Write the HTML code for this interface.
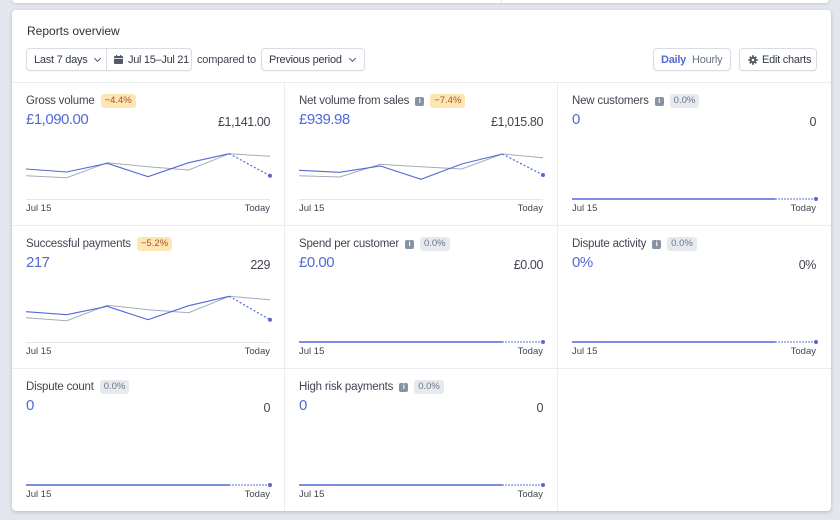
<!DOCTYPE html>
<html><head><meta charset="utf-8">
<style>
*{margin:0;padding:0;box-sizing:border-box}
html,body{width:840px;height:520px;overflow:hidden;background:#e3e6ed;font-family:"Liberation Sans",Arial,sans-serif;color:#414552}
.topcard{position:absolute;left:12px;top:-10px;width:817px;height:13px;background:#fff;border-radius:0 0 4px 4px;box-shadow:0 1px 3px rgba(60,66,87,.15)}
.topcard:after{content:"";position:absolute;left:489px;top:0;width:1px;height:13px;background:#e3e6ea}
.card{position:absolute;left:12px;top:10px;width:819px;height:501px;background:#fff;border-radius:4px;box-shadow:0 1px 3px rgba(60,66,87,.18),0 2px 5px rgba(60,66,87,.08)}
.t{position:absolute;white-space:nowrap}
.title{left:27px;top:25px;font-size:12px;line-height:12px;color:#30313d}
.box{position:absolute;top:48px;height:23px;border:1px solid #d8dde3;border-radius:4px;background:#fff;box-shadow:0 1px 1px rgba(0,0,0,.04);font-size:11px;letter-spacing:-0.25px;color:#353a44;display:flex;align-items:center;white-space:nowrap;overflow:hidden}
.chev{display:inline-block;width:5px;height:5px;border-right:1.2px solid #545969;border-bottom:1.2px solid #545969;transform:rotate(45deg);margin-top:-3px}
.lab{position:absolute;font-size:11.5px;line-height:12px;color:#414552;white-space:nowrap;letter-spacing:-0.2px;display:flex;align-items:center}
.badge{display:inline-block;height:14px;line-height:14px;font-size:9.5px;padding:0 4px;border-radius:3px;margin-left:6px;letter-spacing:0}
.bo{background:#fbe6b4;color:#b0521e}
.bg{background:#e6e9ee;color:#6c7688}
.info{display:inline-block;width:9px;height:9px;border-radius:2px;background:#8792a2;color:#fff;font-size:7px;line-height:9px;text-align:center;font-weight:bold;margin-left:6px}
.val{position:absolute;font-size:15px;line-height:15px;color:#5469d4;letter-spacing:-0.5px;white-space:nowrap}
.rv{position:absolute;font-size:12.5px;line-height:12px;color:#414552;letter-spacing:-0.4px;white-space:nowrap;text-align:right}
.ax{position:absolute;font-size:9.5px;line-height:10px;color:#414552;white-space:nowrap}
</style></head><body>
<div class="topcard"></div>
<div class="card"></div>
<div class="t title">Reports overview</div>

<div class="box" style="left:26px;width:166px;">
  <span style="padding-left:7px;width:79px;display:flex;align-items:center;gap:7px">Last 7 days <span class="chev"></span></span>
  <span style="width:1px;height:21px;background:#d8dde3"></span>
  <span style="padding-left:7px;display:flex;align-items:center;gap:5px;letter-spacing:-0.3px"><svg width="9" height="9" viewBox="0 0 9 9"><rect x="0" y="1" width="9" height="8" rx="1" fill="#545969"/><rect x="2" y="0" width="1.2" height="2" fill="#545969"/><rect x="6" y="0" width="1.2" height="2" fill="#545969"/><rect x="0" y="3" width="9" height="0.8" fill="#fff"/></svg>Jul 15–Jul 21</span>
</div>
<div class="t" style="left:197px;top:54px;font-size:11px;letter-spacing:-0.2px;line-height:12px;color:#414552">compared to</div>
<div class="box" style="left:261px;width:104px;padding-left:7px;gap:8px">Previous period <span class="chev"></span></div>

<div class="box" style="left:653px;width:78px;padding-left:7px;gap:6px"><b style="color:#5469d4;font-weight:bold">Daily</b><span style="color:#687385">Hourly</span></div>
<div class="box" style="left:739px;width:78px;padding-left:8px;gap:4px"><svg width="10" height="10" viewBox="0 0 10 10"><circle cx="5" cy="5" r="3.2" fill="#545969"/><g stroke="#545969" stroke-width="1.8"><line x1="5" y1="0.3" x2="5" y2="9.7"/><line x1="0.3" y1="5" x2="9.7" y2="5"/><line x1="1.7" y1="1.7" x2="8.3" y2="8.3"/><line x1="8.3" y1="1.7" x2="1.7" y2="8.3"/></g><circle cx="5" cy="5" r="1.3" fill="#fff"/></svg>Edit charts</div>

<svg style="position:absolute;left:0;top:0" width="840" height="520">
  <g stroke="#ebeef1" stroke-width="1">
    <line x1="12" y1="82.5" x2="831" y2="82.5"/>
    <line x1="12" y1="225.5" x2="831" y2="225.5"/>
    <line x1="12" y1="368.5" x2="831" y2="368.5"/>
    <line x1="284.5" y1="83" x2="284.5" y2="511"/>
    <line x1="557.5" y1="83" x2="557.5" y2="511"/>
  </g>
  <g transform="translate(26,83)">
    <line x1="0" y1="116.5" x2="244" y2="116.5" stroke="#e3e7ec"/>
    <polyline fill="none" stroke="#a3acb9" stroke-width="1" points="0,92.7 40.7,94.7 81.3,79.7 122,83.7 162.7,87 203.3,70.7 244,73.3"/>
    <polyline fill="none" stroke="#5469d4" stroke-width="1.1" points="0,86 40.7,89 81.3,80.3 122,93.7 162.7,79.7 203.3,70.7"/>
    <line x1="203.3" y1="70.7" x2="244" y2="92.7" stroke="#5469d4" stroke-width="1.2" stroke-dasharray="2,2"/>
    <circle cx="244" cy="92.7" r="2" fill="#5469d4"/>
  </g>
  <g transform="translate(299,83)">
    <line x1="0" y1="116.5" x2="244" y2="116.5" stroke="#e3e7ec"/>
    <polyline fill="none" stroke="#a3acb9" stroke-width="1" points="0,92.7 40.7,94 81.3,81.3 122,83.7 162.7,86 203.3,71 244,74.7"/>
    <polyline fill="none" stroke="#5469d4" stroke-width="1.1" points="0,87.3 40.7,89.3 81.3,83 122,96.3 162.7,81 203.3,71"/>
    <line x1="203.3" y1="71" x2="244" y2="92" stroke="#5469d4" stroke-width="1.2" stroke-dasharray="2,2"/>
    <circle cx="244" cy="92" r="2" fill="#5469d4"/>
  </g>
  <g transform="translate(26,226)">
    <line x1="0" y1="116.5" x2="244" y2="116.5" stroke="#e3e7ec"/>
    <polyline fill="none" stroke="#a3acb9" stroke-width="1" points="0,91.7 40.7,94.7 81.3,79.3 122,83.7 162.7,86.7 203.3,70.3 244,73.7"/>
    <polyline fill="none" stroke="#5469d4" stroke-width="1.1" points="0,85.7 40.7,88.7 81.3,80.3 122,93.7 162.7,79.7 203.3,70.3"/>
    <line x1="203.3" y1="70.3" x2="244" y2="93.7" stroke="#5469d4" stroke-width="1.2" stroke-dasharray="2,2"/>
    <circle cx="244" cy="93.7" r="2" fill="#5469d4"/>
  </g>
  <g transform="translate(572,83)"><line x1="0" y1="116" x2="203.3" y2="116" stroke="#5469d4" stroke-width="1.5"/><line x1="203.3" y1="116" x2="244" y2="116" stroke="#5469d4" stroke-width="1.2" stroke-dasharray="1.5,1.5"/><circle cx="244" cy="116" r="2" fill="#5469d4"/></g>
  <g transform="translate(299,226)"><line x1="0" y1="116" x2="203.3" y2="116" stroke="#5469d4" stroke-width="1.5"/><line x1="203.3" y1="116" x2="244" y2="116" stroke="#5469d4" stroke-width="1.2" stroke-dasharray="1.5,1.5"/><circle cx="244" cy="116" r="2" fill="#5469d4"/></g>
  <g transform="translate(572,226)"><line x1="0" y1="116" x2="203.3" y2="116" stroke="#5469d4" stroke-width="1.5"/><line x1="203.3" y1="116" x2="244" y2="116" stroke="#5469d4" stroke-width="1.2" stroke-dasharray="1.5,1.5"/><circle cx="244" cy="116" r="2" fill="#5469d4"/></g>
  <g transform="translate(26,369)"><line x1="0" y1="116" x2="203.3" y2="116" stroke="#5469d4" stroke-width="1.5"/><line x1="203.3" y1="116" x2="244" y2="116" stroke="#5469d4" stroke-width="1.2" stroke-dasharray="1.5,1.5"/><circle cx="244" cy="116" r="2" fill="#5469d4"/></g>
  <g transform="translate(299,369)"><line x1="0" y1="116" x2="203.3" y2="116" stroke="#5469d4" stroke-width="1.5"/><line x1="203.3" y1="116" x2="244" y2="116" stroke="#5469d4" stroke-width="1.2" stroke-dasharray="1.5,1.5"/><circle cx="244" cy="116" r="2" fill="#5469d4"/></g>
</svg>

<div class="lab" style="left:26px;top:94px">Gross volume<span class="badge bo">−4.4%</span></div>
<div class="val" style="left:26px;top:112px">£1,090.00</div>
<div class="rv" style="right:570px;top:116px">£1,141.00</div>
<div class="ax" style="left:26px;top:204px">Jul 15</div>
<div class="ax" style="right:570px;top:204px">Today</div>

<div class="lab" style="left:299px;top:94px">Net volume from sales<span class="info">i</span><span class="badge bo">−7.4%</span></div>
<div class="val" style="left:299px;top:112px">£939.98</div>
<div class="rv" style="right:297px;top:116px">£1,015.80</div>
<div class="ax" style="left:299px;top:204px">Jul 15</div>
<div class="ax" style="right:297px;top:204px">Today</div>

<div class="lab" style="left:572px;top:94px">New customers<span class="info">i</span><span class="badge bg">0.0%</span></div>
<div class="val" style="left:572px;top:112px">0</div>
<div class="rv" style="right:24px;top:116px">0</div>
<div class="ax" style="left:572px;top:204px">Jul 15</div>
<div class="ax" style="right:24px;top:204px">Today</div>

<div class="lab" style="left:26px;top:237px">Successful payments<span class="badge bo">−5.2%</span></div>
<div class="val" style="left:26px;top:255px">217</div>
<div class="rv" style="right:570px;top:259px">229</div>
<div class="ax" style="left:26px;top:347px">Jul 15</div>
<div class="ax" style="right:570px;top:347px">Today</div>

<div class="lab" style="left:299px;top:237px">Spend per customer<span class="info">i</span><span class="badge bg">0.0%</span></div>
<div class="val" style="left:299px;top:255px">£0.00</div>
<div class="rv" style="right:297px;top:259px">£0.00</div>
<div class="ax" style="left:299px;top:347px">Jul 15</div>
<div class="ax" style="right:297px;top:347px">Today</div>

<div class="lab" style="left:572px;top:237px">Dispute activity<span class="info">i</span><span class="badge bg">0.0%</span></div>
<div class="val" style="left:572px;top:255px">0%</div>
<div class="rv" style="right:24px;top:259px">0%</div>
<div class="ax" style="left:572px;top:347px">Jul 15</div>
<div class="ax" style="right:24px;top:347px">Today</div>

<div class="lab" style="left:26px;top:380px">Dispute count<span class="badge bg">0.0%</span></div>
<div class="val" style="left:26px;top:398px">0</div>
<div class="rv" style="right:570px;top:402px">0</div>
<div class="ax" style="left:26px;top:490px">Jul 15</div>
<div class="ax" style="right:570px;top:490px">Today</div>

<div class="lab" style="left:299px;top:380px">High risk payments<span class="info">i</span><span class="badge bg">0.0%</span></div>
<div class="val" style="left:299px;top:398px">0</div>
<div class="rv" style="right:297px;top:402px">0</div>
<div class="ax" style="left:299px;top:490px">Jul 15</div>
<div class="ax" style="right:297px;top:490px">Today</div>
</body></html>
